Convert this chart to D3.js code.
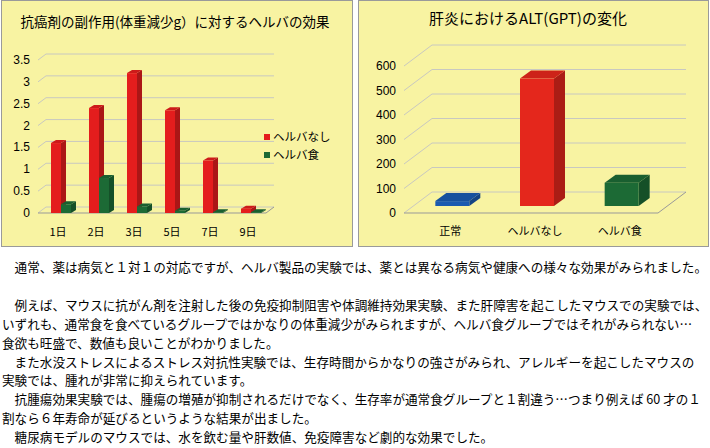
<!DOCTYPE html>
<html><head><meta charset="utf-8">
<script src="https://cdn.jsdelivr.net/npm/d3@7"></script>
<style>body{margin:0;background:#fff;font-family:"Noto Sans CJK JP",sans-serif}</style>
</head><body>
<script>
// 左グラフ
var days = ["1日", "2日", "3日", "5日", "7日", "9日"];
var nashi = [1.6, 2.4, 3.2, 2.35, 1.2, 0.1];
var shoku = [0.2, 0.8, 0.15, 0.05, 0.02, 0.02];
var leftTicks = [0, 0.5, 1, 1.5, 2, 2.5, 3, 3.5];
// 右グラフ
var groups = ["正常", "ヘルバなし", "ヘルバ食"];
var alt = [20, 520, 95];
var rightTicks = [0, 100, 200, 300, 400, 500, 600];
var texts = [
  "　通常、薬は病気と１対１の対応ですが、ヘルバ製品の実験では、薬とは異なる病気や健康への様々な効果がみられました。",
  "",
  "　例えば、マウスに抗がん剤を注射した後の免疫抑制阻害や体調維持効果実験、また肝障害を起こしたマウスでの実験では、",
  "いずれも、通常食を食べているグループではかなりの体重減少がみられますが、ヘルバ食グループではそれがみられない…",
  "食欲も旺盛で、数値も良いことがわかりました。",
  "　また水没ストレスによるストレス対抗性実験では、生存時間からかなりの強さがみられ、アレルギーを起こしたマウスの",
  "実験では、腫れが非常に抑えられています。",
  "　抗腫瘍効果実験では、腫瘍の増殖が抑制されるだけでなく、生存率が通常食グループと１割違う…つまり例えば 60 才の１",
  "割なら６年寿命が延びるというような結果が出ました。",
  "　糖尿病モデルのマウスでは、水を飲む量や肝数値、免疫障害など劇的な効果でした。"
];

var svg = d3.select("body").append("svg").attr("width", 710).attr("height", 448);

function panel(x, w) {
  svg.append("rect").attr("x", x + 0.5).attr("y", 0.5).attr("width", w).attr("height", 246)
    .attr("fill", "#f8f3a2").attr("stroke", "#9a9a9a");
}
function bar3d(g, x0, x1, y0, y1, dx, dy, c) {
  var dark = d3.color(c).darker(0.8), mid = d3.color(c).darker(0.3);
  g.append("path").attr("d", `M${x1},${y1}L${x1 + dx},${y1 + dy}L${x1 + dx},${y0 + dy}L${x1},${y0}Z`).attr("fill", dark);
  g.append("path").attr("d", `M${x0},${y1}L${x0 + dx},${y1 + dy}L${x1 + dx},${y1 + dy}L${x1},${y1}Z`).attr("fill", mid);
  g.append("rect").attr("x", x0).attr("y", y1).attr("width", x1 - x0).attr("height", Math.max(0.5, y0 - y1)).attr("fill", c);
}

// ---- 左
panel(1, 351);
var gl = svg.append("g");
var yL = d3.scaleLinear().domain([0, 3.5]).range([213, 60]);
var xL = d3.scaleBand().domain(days).range([38, 266]);
var wdx = 8, wdy = -6;
gl.append("text").attr("x", 175).attr("y", 27).attr("text-anchor", "middle").attr("font-size", 13.5)
  .text("抗癌剤の副作用(体重減少g）に対するヘルバの効果");
leftTicks.forEach(t => {
  gl.append("line").attr("x1", 38 + wdx).attr("x2", 266 + wdx).attr("y1", yL(t) + wdy).attr("y2", yL(t) + wdy).attr("stroke", "#c8c8c0");
  gl.append("line").attr("x1", 38).attr("x2", 38 + wdx).attr("y1", yL(t)).attr("y2", yL(t) + wdy).attr("stroke", "#c8c8c0");
  gl.append("text").attr("x", 30).attr("y", yL(t) + 4).attr("text-anchor", "end").attr("font-size", 12)
    .attr("font-family", "Liberation Sans, Arial").text(t);
});
gl.append("line").attr("x1", 38).attr("x2", 266).attr("y1", 213).attr("y2", 213).attr("stroke", "#999");
gl.append("line").attr("x1", 266).attr("x2", 266 + wdx).attr("y1", 213).attr("y2", 213 + wdy).attr("stroke", "#999");
days.forEach((d, i) => {
  var c = xL(d) + xL.bandwidth() / 2;
  bar3d(gl, c - 6, c + 4, 213, yL(nashi[i]), 5, -3, "#e41d1d");
  bar3d(gl, c + 4, c + 14, 213, yL(shoku[i]), 5, -3, "#1c6a35");
  gl.append("text").attr("x", c + 1).attr("y", 236).attr("text-anchor", "middle").attr("font-size", 11).text(d);
});
[["ヘルバなし", "#e41d1d"], ["ヘルバ食", "#1c6a35"]].forEach((l, i) => {
  gl.append("rect").attr("x", 264).attr("y", 134 + i * 18).attr("width", 6).attr("height", 6).attr("fill", l[1]);
  gl.append("text").attr("x", 273).attr("y", 141 + i * 18).attr("font-size", 11.5).text(l[0]);
});

// ---- 右
panel(358, 350);
var gr = svg.append("g");
var yR = d3.scaleLinear().domain([0, 600]).range([213, 66]);
var xR = d3.scaleBand().domain(groups).range([404, 658]);
var rdx = 28, rdy = -21;
gr.append("text").attr("x", 528).attr("y", 24).attr("text-anchor", "middle").attr("font-size", 15).text("肝炎におけるALT(GPT)の変化");
rightTicks.forEach(t => {
  gr.append("line").attr("x1", 404 + rdx).attr("x2", 658 + rdx).attr("y1", yR(t) + rdy).attr("y2", yR(t) + rdy).attr("stroke", "#c8c8c0");
  gr.append("line").attr("x1", 404).attr("x2", 404 + rdx).attr("y1", yR(t)).attr("y2", yR(t) + rdy).attr("stroke", "#c8c8c0");
  gr.append("text").attr("x", 396).attr("y", yR(t) + 4).attr("text-anchor", "end").attr("font-size", 12)
    .attr("font-family", "Liberation Sans, Arial").text(t);
});
gr.append("line").attr("x1", 404).attr("x2", 658).attr("y1", 213).attr("y2", 213).attr("stroke", "#999");
gr.append("line").attr("x1", 658).attr("x2", 658 + rdx).attr("y1", 213).attr("y2", 213 + rdy).attr("stroke", "#999");
var rc = ["#1a5ab0", "#e4271c", "#1c6a35"];
groups.forEach((d, i) => {
  var c = xR(d) + xR.bandwidth() / 2 + 6;
  var base = 213 - 7;
  var h = yR(0) - yR(alt[i]);
  bar3d(gr, c - 17, c + 17, base, base - h, 11, -8, rc[i]);
  gr.append("text").attr("x", c - 2).attr("y", 235).attr("text-anchor", "middle").attr("font-size", 11).text(d);
});

// ---- 本文
texts.forEach((t, i) => {
  svg.append("text").attr("x", 2).attr("y", 272 + i * 18.9).attr("font-size", 12.6).text(t);
});
</script>
</body></html>
